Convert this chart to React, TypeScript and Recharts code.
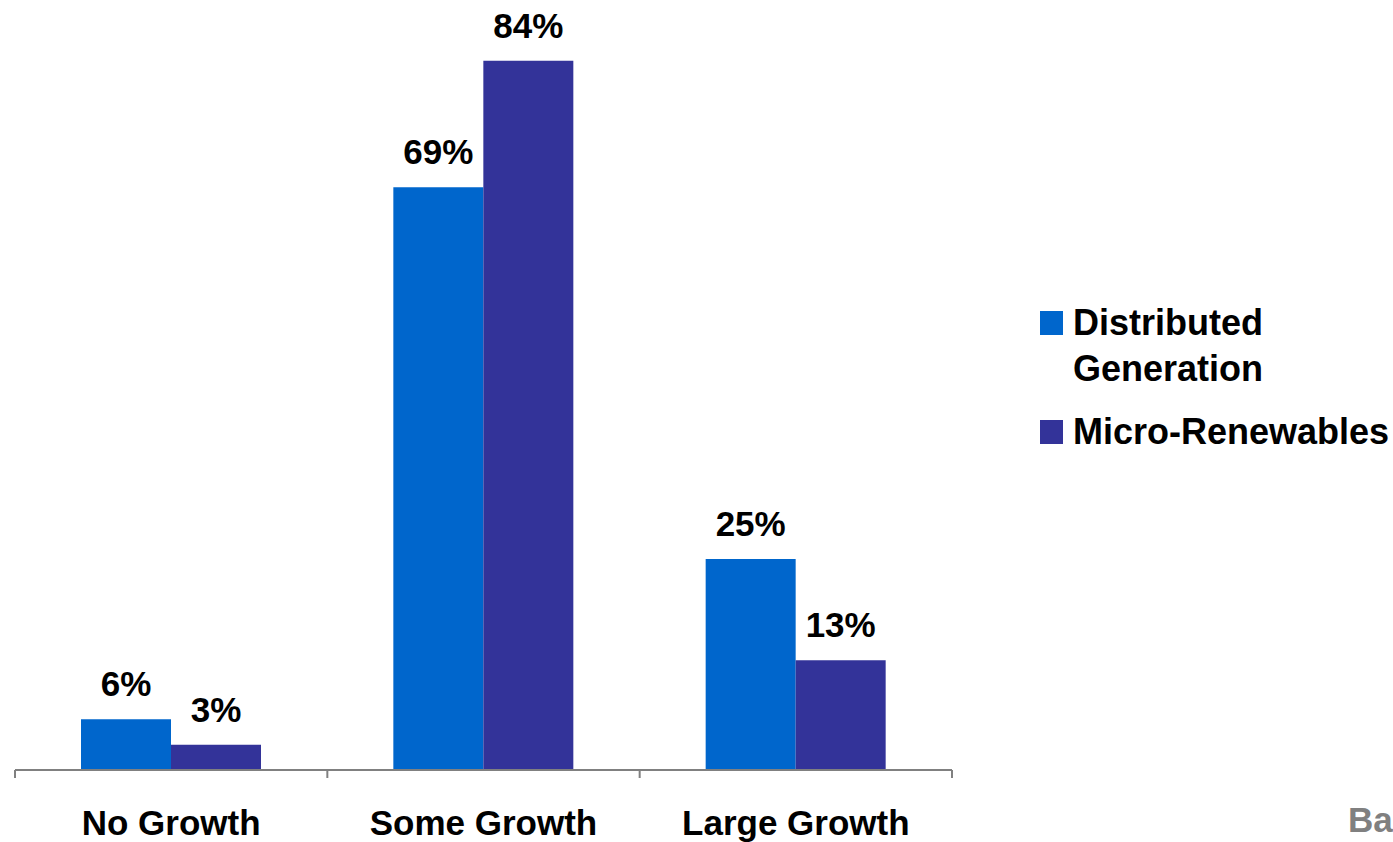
import React from "react";
import { BarChart, Bar, XAxis, YAxis, LabelList } from "recharts";

const categories = ["No Growth", "Some Growth", "Large Growth"];
const distributedGeneration = [6, 69, 25];
const microRenewables = [3, 84, 13];

const seriesNames = ["Distributed Generation", "Micro-Renewables"];
const seriesColors = ["#0066CC", "#333399"];

const data = categories.map((c, i) => ({
  cat: c,
  dg: distributedGeneration[i],
  mr: microRenewables[i],
}));

const FONT = "'Liberation Sans', Arial, sans-serif";
const W = 1393;
const H = 842;
const M = { top: 10, right: 441, left: 15, bottom: 0 };
const band = (W - M.left - M.right) / categories.length;

function CatTick(props: any) {
  const { x, y, payload, index } = props;
  const left = x - band / 2;
  return (
    <g>
      <line x1={left} y1={y - 8} x2={left} y2={y} stroke="#808080" strokeWidth={2} />
      {index === categories.length - 1 && (
        <line x1={x + band / 2} y1={y - 8} x2={x + band / 2} y2={y} stroke="#808080" strokeWidth={2} />
      )}
      <text x={x} y={y + 57} textAnchor="middle" fontFamily={FONT} fontWeight="bold" fontSize={35} fill="#000">
        {payload.value}
      </text>
    </g>
  );
}

function LegendBox() {
  return (
    <div style={{ fontFamily: FONT, fontWeight: "bold", fontSize: 36, color: "#000" }}>
      <div style={{ display: "flex", alignItems: "flex-start" }}>
        <div style={{ width: 23, height: 24, background: seriesColors[0], marginTop: 11, marginRight: 10 }} />
        <div style={{ lineHeight: "46px" }}>
          Distributed
          <br />
          Generation
        </div>
      </div>
      <div style={{ display: "flex", alignItems: "flex-start", marginTop: 17 }}>
        <div style={{ width: 23, height: 24, background: seriesColors[1], marginTop: 11, marginRight: 10 }} />
        <div style={{ lineHeight: "46px" }}>{seriesNames[1]}</div>
      </div>
    </div>
  );
}

const labelStyle = { fontFamily: FONT, fontWeight: "bold", fontSize: 35, fill: "#000" };

export default function App() {
  return (
    <div style={{ position: "absolute", left: 0, top: 0, width: W, height: H, background: "#fff", overflow: "hidden" }}>
      <BarChart width={W} height={H} data={data} margin={M} barGap={0} barSize={90}>
        <XAxis
          dataKey="cat"
          height={72}
          axisLine={{ stroke: "#808080", strokeWidth: 2 }}
          tickLine={false}
          interval={0}
          tick={<CatTick />}
        />
        <YAxis hide domain={[0, 90]} />
        <Bar dataKey="dg" name={seriesNames[0]} fill={seriesColors[0]} isAnimationActive={false}>
          <LabelList dataKey="dg" position="top" offset={23} formatter={(v: any) => `${v}%`} style={labelStyle} />
        </Bar>
        <Bar dataKey="mr" name={seriesNames[1]} fill={seriesColors[1]} isAnimationActive={false}>
          <LabelList dataKey="mr" position="top" offset={23} formatter={(v: any) => `${v}%`} style={labelStyle} />
        </Bar>
      </BarChart>
      <div style={{ position: "absolute", left: 1040, top: 300 }}>
        <LegendBox />
      </div>
      <div
        style={{
          position: "absolute",
          left: 1348,
          top: 800,
          fontFamily: FONT,
          fontWeight: "bold",
          fontSize: 35,
          color: "#808080",
          whiteSpace: "nowrap",
        }}
      >
        Base
      </div>
    </div>
  );
}
